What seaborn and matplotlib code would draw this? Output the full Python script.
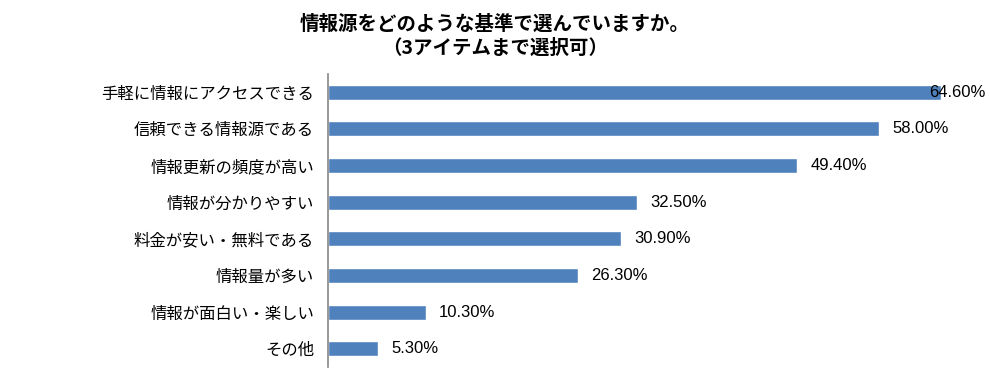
import matplotlib
matplotlib.use('Agg')
import matplotlib.pyplot as plt
import seaborn as sns
import pandas as pd

categories = ['手軽に情報にアクセスできる', '信頼できる情報源である', '情報更新の頻度が高い',
              '情報が分かりやすい', '料金が安い・無料である', '情報量が多い',
              '情報が面白い・楽しい', 'その他']
values = [64.6, 58.0, 49.4, 32.5, 30.9, 26.3, 10.3, 5.3]
value_labels = ['64.60%', '58.00%', '49.40%', '32.50%', '30.90%', '26.30%', '10.30%', '5.30%']
title = '情報源をどのような基準で選んでいますか。\n（3アイテムまで選択可）'

sns.set_style('white')
plt.rcParams['font.family'] = ['Noto Sans CJK JP', 'DejaVu Sans']
plt.rcParams['text.color'] = 'black'
plt.rcParams['ytick.color'] = 'black'
plt.rcParams['ytick.labelcolor'] = 'black'

df = pd.DataFrame({'item': categories, 'value': values})

fig = plt.figure(figsize=(9.9, 3.8), dpi=100)
ax = fig.add_axes([328 / 990, 13 / 380, 657 / 990, 293 / 380])

sns.barplot(data=df, y='item', x='value', orient='h', color='#4F81BD',
            saturation=1, width=0.41, ax=ax)

xmax = 69.2
ax.set_xlim(0, xmax)
ax.set_ylim(7.5, -0.5)
ax.set_xlabel('')
ax.set_ylabel('')
ax.set_xticks([])
ax.tick_params(axis='y', length=0, pad=10, labelsize=11.8, labelcolor='black')
for s in ['top', 'right', 'bottom']:
    ax.spines[s].set_visible(False)
ax.spines['left'].set_color('#868686')
ax.spines['left'].set_linewidth(1.2)

for i, (v, lab) in enumerate(zip(values, value_labels)):
    x = v + 1.4
    ha = 'left'
    if x + 6.0 > xmax:
        x, ha = xmax, 'right'
    ax.text(x, i, lab, ha=ha, va='center', fontsize=12,
            family=['Liberation Sans', 'DejaVu Sans'], color='black')

fig.text(495 / 990, 1 - 36 / 380, title, ha='center', va='center',
         fontsize=14, fontweight='bold', linespacing=1.3, color='black')

fig.savefig('out.png', dpi=100)
